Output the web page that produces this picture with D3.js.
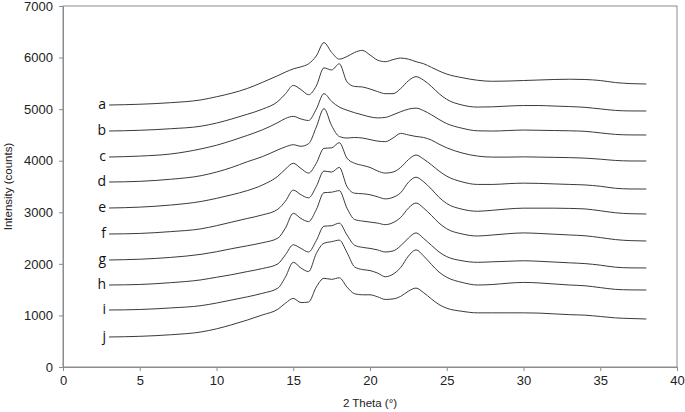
<!DOCTYPE html>
<html>
<head>
<meta charset="utf-8">
<script src="https://cdn.jsdelivr.net/npm/d3@7"></script>
<style>
  body { margin: 0; background: #fff; }
  svg { display: block; }
</style>
</head>
<body>
<div id="chart"></div>
<script>
var margin = {top: 6, right: 8, bottom: 45, left: 63},
    width = 685 - margin.left - margin.right,
    height = 412 - margin.top - margin.bottom;

// 2 theta sample positions (deg)
var twoTheta = [3, 5, 7, 9, 10, 11, 12, 13, 14, 14.5, 15, 15.5, 16, 16.5, 17, 17.5, 18, 18.5, 19, 19.5,
  20, 20.5, 21, 21.5, 22, 22.5, 23, 23.5, 24, 24.5, 25, 26, 27, 28, 29, 30, 31, 32, 33, 34, 35, 36, 37, 38]

// intensity (counts)
var a = [5080, 5095, 5125, 5180, 5240, 5310, 5400, 5520, 5650, 5720, 5780, 5820, 5880, 6030, 6290, 6100, 5970, 6020, 6100, 6140,
  6050, 5950, 5920, 5960, 5990, 5970, 5920, 5880, 5810, 5740, 5680, 5610, 5560, 5540, 5545, 5555, 5565, 5575, 5580, 5575, 5555, 5515, 5495, 5487]
var b = [4576, 4590, 4620, 4670, 4730, 4810, 4900, 5000, 5150, 5300, 5460, 5380, 5280, 5450, 5800, 5760, 5880, 5530, 5440, 5430,
  5390, 5340, 5300, 5300, 5400, 5550, 5630, 5560, 5440, 5300, 5190, 5080, 5040, 5045, 5060, 5070, 5070, 5060, 5050, 5035, 5005, 4975, 4965, 4964]
var c = [4072, 4090, 4130, 4230, 4300, 4390, 4490, 4600, 4740, 4820, 4860, 4810, 4780, 5000, 5300, 5150, 5040, 4980, 4930, 4890,
  4850, 4830, 4840, 4890, 4950, 5000, 5020, 4970, 4890, 4800, 4720, 4630, 4580, 4575, 4585, 4595, 4590, 4585, 4580, 4570, 4540, 4510, 4500, 4499]
var d = [3587, 3600, 3640, 3710, 3780, 3870, 3980, 4080, 4210, 4270, 4310, 4280, 4330, 4650, 5010, 4680, 4470, 4440, 4450, 4440,
  4410, 4380, 4370, 4440, 4530, 4500, 4470, 4450, 4400, 4320, 4250, 4150, 4090, 4070, 4070, 4075, 4070, 4065, 4060, 4050, 4030, 4005, 3995, 3994]
var e = [3083, 3100, 3140, 3210, 3270, 3340, 3420, 3530, 3700, 3840, 3950, 3850, 3760, 3950, 4240, 4250, 4350, 4050, 3950, 3910,
  3870, 3800, 3760, 3780, 3870, 4020, 4110, 4030, 3920, 3800, 3700, 3590, 3540, 3540, 3555, 3565, 3560, 3550, 3540, 3530, 3505, 3465, 3452, 3451]
var f = [2579, 2590, 2625, 2680, 2740, 2810, 2880, 2950, 3060, 3220, 3430, 3340, 3280, 3500, 3800, 3780, 3870, 3500, 3370, 3360,
  3340, 3300, 3260, 3290, 3380, 3580, 3680, 3590, 3450, 3290, 3170, 3060, 3020, 3040, 3065, 3080, 3080, 3080, 3075, 3065, 3030, 2990, 2972, 2967]
var g = [2075, 2090, 2125, 2185, 2235, 2295, 2350, 2410, 2500, 2700, 2980, 2880, 2820, 3050, 3380, 3390, 3420, 3080, 2860, 2830,
  2810, 2790, 2760, 2800, 2900, 3080, 3180, 3080, 2940, 2790, 2680, 2580, 2540, 2560, 2585, 2600, 2590, 2575, 2560, 2545, 2510, 2470, 2450, 2443]
var h = [1590, 1600, 1635, 1690, 1740, 1790, 1850, 1910, 2000, 2180, 2370, 2300, 2230, 2450, 2730, 2740, 2790, 2560, 2360, 2320,
  2300, 2270, 2230, 2250, 2350, 2500, 2600, 2490, 2360, 2230, 2140, 2060, 2030, 2040, 2050, 2060, 2050, 2035, 2020, 2005, 1975, 1935, 1922, 1920]
var i_ = [1105, 1115, 1145, 1190, 1240, 1300, 1360, 1430, 1530, 1750, 2030, 1920, 1850, 2200, 2400, 2430, 2460, 2220, 1940, 1890,
  1870, 1820, 1750, 1800, 1930, 2150, 2270, 2150, 1990, 1840, 1740, 1640, 1590, 1600, 1625, 1640, 1630, 1610, 1590, 1575, 1540, 1505, 1495, 1493]
var j = [582, 595, 625, 680, 740, 820, 910, 1010, 1120, 1240, 1330, 1250, 1260, 1550, 1720, 1700, 1730, 1550, 1420, 1400,
  1400, 1360, 1310, 1320, 1370, 1470, 1530, 1440, 1320, 1210, 1140, 1080, 1050, 1050, 1050, 1050, 1045, 1030, 1015, 1005, 980, 952, 940, 931]

var seriesNames = ["a", "b", "c", "d", "e", "f", "g", "h", "i", "j"]
var seriesValues = [a, b, c, d, e, f, g, h, i_, j]

var xTicks = [0, 5, 10, 15, 20, 25, 30, 35, 40]
var yTicks = [0, 1000, 2000, 3000, 4000, 5000, 6000, 7000]

var svg = d3.select("#chart")
  .append("svg")
    .attr("width", width + margin.left + margin.right)
    .attr("height", height + margin.top + margin.bottom)
  .append("g")
    .attr("transform", "translate(" + margin.left + "," + margin.top + ")");

var x = d3.scaleLinear().domain([0, 40]).range([0, width]);
var y = d3.scaleLinear().domain([0, 7000]).range([height, 0]);

// frame
svg.append("rect")
  .attr("width", width)
  .attr("height", height)
  .attr("fill", "none")
  .attr("stroke", "#8c8c8c")
  .attr("stroke-width", 1);

var xAxis = svg.append("g")
  .attr("transform", "translate(0," + height + ")")
  .call(d3.axisBottom(x).tickValues(xTicks).tickSize(4).tickSizeOuter(0).tickPadding(5));

var yAxis = svg.append("g")
  .call(d3.axisLeft(y).tickValues(yTicks).tickFormat(d3.format("d")).tickSize(4).tickSizeOuter(0).tickPadding(6));

[xAxis, yAxis].forEach(function(ax){
  ax.select(".domain").attr("stroke", "#8c8c8c")
  ax.selectAll(".tick line").attr("stroke", "#8c8c8c")
  ax.selectAll(".tick text")
    .attr("fill", "#222")
    .style("font-family", "'Liberation Sans', Arial, sans-serif")
    .style("font-size", "13px")
})

// axis titles
svg.append("text")
  .attr("x", width / 2)
  .attr("y", height + 40)
  .attr("text-anchor", "middle")
  .style("font-family", "'Liberation Sans', Arial, sans-serif")
  .style("font-size", "11.5px")
  .attr("fill", "#222")
  .text("2 Theta (°)");

svg.append("text")
  .attr("transform", "translate(" + (-51) + "," + (height / 2) + ") rotate(-90)")
  .attr("text-anchor", "middle")
  .style("font-family", "'Liberation Sans', Arial, sans-serif")
  .style("font-size", "11.5px")
  .attr("fill", "#222")
  .text("Intensity (counts)");

var line = d3.line()
  .x(function(v, k) { return x(twoTheta[k]) })
  .y(function(v) { return y(v) })
  .curve(d3.curveMonotoneX)

seriesValues.forEach(function(vals, k){
  svg.append("path")
    .datum(vals)
    .attr("fill", "none")
    .attr("stroke", "#3a3a3a")
    .attr("stroke-width", 1)
    .attr("d", line)

  svg.append("text")
    .attr("x", x(twoTheta[0]) - 3)
    .attr("y", y(vals[0]))
    .attr("dy", "0.32em")
    .attr("text-anchor", "end")
    .style("font-family", "'Open Sans', sans-serif")
    .style("font-size", "14px")
    .attr("fill", "#111")
    .text(seriesNames[k])
})
</script>
</body>
</html>
